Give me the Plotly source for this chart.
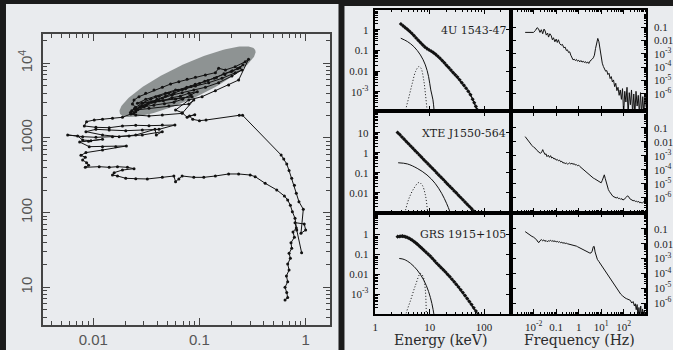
import numpy as np
import plotly.graph_objects as go

# ====================== DATA ======================
# Left panel: source track, (log10 x, log10 y) pairs in data units
track = [
    (-0.194, 0.830), (-0.169, 0.862), (-0.178, 0.929), (-0.194, 1.000), (-0.169, 1.076),
    (-0.181, 1.152), (-0.156, 1.232), (-0.169, 1.313), (-0.144, 1.388), (-0.156, 1.455),
    (-0.131, 1.522), (-0.138, 1.598), (-0.106, 1.670), (-0.119, 1.741), (-0.088, 1.795),
    (-0.100, 1.866), (-0.013, 1.848), (0.000, 1.768), (-0.044, 1.723), (-0.022, 2.045),
    (-0.063, 2.147), (-0.088, 2.259), (-0.106, 2.366), (-0.131, 2.460), (-0.156, 2.563),
    (-0.178, 2.652), (-0.206, 2.719), (-0.231, 2.772), (-0.594, 3.304), (-0.625, 3.304),
    (-0.938, 3.241), (-1.000, 3.232), (-1.063, 3.250), (-1.094, 3.295), (-1.044, 3.313),
    (-1.116, 3.277), (-1.163, 3.339), (-1.225, 3.375), (-1.100, 3.509), (-0.975, 3.554),
    (-0.850, 3.634), (-0.725, 3.710), (-0.631, 3.777), (-0.538, 4.054), (-0.569, 4.022),
    (-0.663, 3.955), (-0.756, 3.911), (-0.819, 3.933), (-0.850, 3.875), (-0.944, 3.844),
    (-1.038, 3.813), (-1.116, 3.786), (-1.194, 3.754), (-1.272, 3.723), (-1.350, 3.679),
    (-1.428, 3.643), (-1.506, 3.598), (-1.569, 3.554), (-1.616, 3.509), (-1.631, 3.455),
    (-1.600, 3.411), (-1.638, 3.366), (-1.538, 3.429), (-1.444, 3.487), (-1.350, 3.531),
    (-1.256, 3.576), (-1.163, 3.607), (-1.053, 3.643), (-0.944, 3.679), (-0.819, 3.741),
    (-0.694, 3.830), (-0.600, 3.911), (-0.663, 3.875), (-0.788, 3.799), (-0.913, 3.741),
    (-1.038, 3.696), (-1.131, 3.661), (-1.225, 3.643), (-1.319, 3.598), (-1.413, 3.554),
    (-1.506, 3.518), (-1.584, 3.464), (-1.069, 3.554), (-1.225, 3.518), (-1.381, 3.500),
    (-1.538, 3.464), (-1.600, 3.375), (-1.475, 3.397), (-1.288, 3.429), (-1.100, 3.455),
    (-1.053, 3.509), (-1.163, 3.330), (-1.350, 3.308), (-1.475, 3.295), (-1.600, 3.308),
    (-1.647, 3.321), (-1.725, 3.277), (-1.819, 3.263), (-1.913, 3.250), (-1.991, 3.241),
    (-2.063, 3.219), (-2.084, 3.161), (-1.975, 3.143), (-1.850, 3.138), (-1.725, 3.161),
    (-1.600, 3.170), (-1.475, 3.165), (-1.350, 3.174), (-1.231, 3.174), (-1.381, 3.116),
    (-1.538, 3.107), (-1.694, 3.098), (-1.850, 3.107), (-1.975, 3.116), (-2.069, 3.085),
    (-1.913, 3.040), (-1.756, 3.018), (-1.600, 3.040), (-1.419, 3.116), (-1.406, 3.040),
    (-1.350, 3.085), (-1.538, 3.040), (-1.663, 3.027), (-1.819, 3.018), (-1.975, 3.009),
    (-2.100, 3.018), (-2.241, 3.040), (-2.147, 3.027), (-2.100, 2.973), (-2.022, 2.964),
    (-1.913, 2.982), (-2.044, 2.955), (-2.128, 2.946), (-2.038, 2.884), (-1.913, 2.884),
    (-1.788, 2.884), (-1.688, 2.893), (-1.913, 2.839), (-2.069, 2.804), (-2.116, 2.768),
    (-2.075, 2.741), (-2.100, 2.705), (-2.063, 2.670), (-2.044, 2.634), (-2.075, 2.607),
    (-1.944, 2.616), (-1.850, 2.607), (-1.772, 2.616), (-1.678, 2.607), (-1.616, 2.589),
    (-1.725, 2.571), (-1.803, 2.536), (-1.819, 2.504), (-1.772, 2.491), (-1.694, 2.460),
    (-1.600, 2.455), (-1.491, 2.451), (-1.350, 2.473), (-1.241, 2.491), (-1.225, 2.415),
    (-1.194, 2.451), (-1.163, 2.491), (-1.053, 2.473), (-0.959, 2.473), (-0.850, 2.491),
    (-0.725, 2.518), (-0.631, 2.518), (-0.522, 2.504), (-0.475, 2.482), (-0.381, 2.393),
    (-0.272, 2.304), (-0.200, 2.223), (-0.169, 2.170), (-0.144, 2.098), (-0.125, 2.013),
    (-0.100, 1.924), (-0.084, 1.768), (-0.038, 1.464),
]
# extra dense passes inside the grey ellipse (log10 x, log10 y)
track_cluster = [
    (-1.620, 3.330), (-1.560, 3.420), (-1.480, 3.470), (-1.400, 3.520), (-1.320, 3.560),
    (-1.240, 3.600), (-1.160, 3.650), (-1.080, 3.690), (-1.000, 3.730), (-0.920, 3.770),
    (-0.840, 3.810), (-0.760, 3.850), (-0.700, 3.890), (-0.640, 3.930), (-0.590, 3.980),
    (-0.620, 3.940), (-0.690, 3.900), (-0.770, 3.860), (-0.860, 3.800), (-0.950, 3.760),
    (-1.040, 3.720), (-1.120, 3.680), (-1.200, 3.640), (-1.290, 3.600), (-1.380, 3.560),
    (-1.460, 3.520), (-1.540, 3.470), (-1.610, 3.400), (-1.650, 3.340), (-1.580, 3.380),
    (-1.500, 3.440), (-1.420, 3.480), (-1.340, 3.500), (-1.260, 3.540), (-1.180, 3.560),
    (-1.100, 3.600), (-1.020, 3.620), (-1.080, 3.580), (-1.160, 3.520), (-1.240, 3.480),
    (-1.330, 3.460), (-1.430, 3.440), (-1.520, 3.420), (-1.600, 3.350),
]
# grey highlight ellipse: centre (data units), semi-axes (screen px), tilt (deg)
ellipse_center = (0.0772, 5680.0)
ellipse_semi_px = (75.0, 17.4)
ellipse_tilt_deg = 25.0

# Energy spectra: (log10 E[keV], log10 flux)
spec_data = [
    [(0.47, 0.29), (0.51, 0.20), (0.55, 0.11), (0.59, 0.03), (0.63, -0.06), (0.67, -0.16),
     (0.71, -0.27), (0.75, -0.39), (0.79, -0.50), (0.83, -0.61), (0.87, -0.72), (0.91, -0.82),
     (0.95, -0.90), (0.99, -0.97), (1.03, -1.03), (1.07, -1.10), (1.11, -1.18), (1.15, -1.27),
     (1.19, -1.37), (1.23, -1.48), (1.27, -1.59), (1.31, -1.71), (1.35, -1.82), (1.39, -1.94),
     (1.43, -2.06), (1.47, -2.17), (1.51, -2.28), (1.55, -2.41), (1.59, -2.55), (1.63, -2.68),
     (1.67, -2.82), (1.71, -2.97), (1.75, -3.13), (1.79, -3.35), (1.82, -3.52), (1.85, -3.70),
     (1.87, -3.85)],
    [(0.41, 1.02), (0.45, 0.92), (0.49, 0.80), (0.53, 0.69), (0.57, 0.57), (0.61, 0.46),
     (0.65, 0.35), (0.69, 0.24), (0.73, 0.12), (0.77, 0.01), (0.81, -0.10), (0.85, -0.21),
     (0.89, -0.33), (0.93, -0.44), (0.97, -0.55), (1.01, -0.66), (1.05, -0.77), (1.09, -0.88),
     (1.13, -1.00), (1.17, -1.11), (1.21, -1.22), (1.25, -1.33), (1.29, -1.45), (1.33, -1.56),
     (1.37, -1.67), (1.41, -1.78), (1.45, -1.90), (1.49, -2.00), (1.53, -2.12), (1.57, -2.23),
     (1.61, -2.34), (1.65, -2.46), (1.69, -2.57), (1.73, -2.68), (1.77, -2.79), (1.81, -2.91),
     (1.84, -3.00)],
    [(0.41, -0.13), (0.44, -0.12), (0.47, -0.11), (0.50, -0.10), (0.53, -0.12), (0.56, -0.14),
     (0.59, -0.17), (0.62, -0.21), (0.65, -0.26), (0.68, -0.31), (0.71, -0.37), (0.74, -0.43),
     (0.77, -0.50), (0.80, -0.57), (0.83, -0.65), (0.86, -0.72), (0.89, -0.80), (0.93, -0.90),
     (0.97, -1.00), (1.01, -1.10), (1.05, -1.22), (1.09, -1.34), (1.13, -1.46), (1.17, -1.57),
     (1.21, -1.68), (1.25, -1.79), (1.29, -1.90), (1.33, -2.02), (1.37, -2.13), (1.41, -2.26),
     (1.45, -2.39), (1.49, -2.52), (1.53, -2.65), (1.57, -2.79), (1.61, -2.93), (1.65, -3.08),
     (1.69, -3.23), (1.73, -3.38), (1.77, -3.53), (1.81, -3.69), (1.85, -3.85), (1.89, -4.02)],
]
spec_disk = [
    [(0.468, -0.40), (0.59, -0.56), (0.71, -0.81), (0.83, -1.21), (0.92, -1.69), (0.98, -2.26),
     (1.02, -2.90), (1.06, -3.38), (1.08, -3.86), (1.10, -4.30)],
    [(0.42, -0.49), (0.59, -0.55), (0.77, -0.77), (0.95, -1.10), (1.10, -1.52), (1.22, -2.02),
     (1.31, -2.52), (1.37, -2.93), (1.41, -3.30)],
    [(0.44, -1.22), (0.53, -1.27), (0.65, -1.47), (0.77, -1.80), (0.89, -2.30), (0.98, -2.88),
     (1.04, -3.47), (1.08, -4.05), (1.10, -4.40)],
]
spec_line = [
    [(0.54, -4.30), (0.56, -3.86), (0.62, -3.22), (0.68, -2.58), (0.74, -2.01), (0.80, -1.77),
     (0.84, -1.85), (0.89, -2.42), (0.92, -3.06), (0.95, -3.86), (0.96, -4.30)],
    [(0.53, -3.30), (0.55, -2.93), (0.62, -2.27), (0.71, -1.77), (0.80, -1.48), (0.86, -1.60),
     (0.92, -2.10), (0.96, -2.93), (0.97, -3.30)],
    [(0.55, -4.40), (0.56, -4.05), (0.65, -3.30), (0.74, -2.55), (0.83, -1.97), (0.88, -2.13),
     (0.92, -2.80), (0.94, -4.05), (0.95, -4.40)],
]
source_names = ["4U 1543-47", "XTE J1550-564", "GRS 1915+105"]

# Power spectra: (log10 f[Hz], log10 power)
psd = [
    [(-2.38, -1.40), (-2.20, -1.40), (-2.01, -1.40), (-1.92, -1.25), (-1.85, -1.05), (-1.79, -1.12),
     (-1.72, -1.40), (-1.66, -1.20), (-1.60, -1.50), (-1.54, -1.15), (-1.49, -1.30), (-1.44, -1.60),
     (-1.38, -1.45), (-1.34, -1.75), (-1.28, -1.50), (-1.22, -1.65), (-1.17, -1.95), (-1.12, -1.80),
     (-1.06, -2.10), (-1.00, -1.90), (-0.95, -2.15), (-0.90, -1.95), (-0.84, -2.25), (-0.78, -2.35),
     (-0.72, -2.30), (-0.66, -2.55), (-0.60, -2.50), (-0.55, -2.75), (-0.50, -2.70), (-0.45, -2.90),
     (-0.40, -2.85), (-0.35, -3.10), (-0.30, -3.30), (-0.25, -3.45), (-0.20, -3.40), (-0.15, -3.50),
     (-0.10, -3.42), (-0.05, -3.55), (0.00, -3.48), (0.05, -3.60), (0.10, -3.50), (0.15, -3.62),
     (0.20, -3.55), (0.25, -3.65), (0.30, -3.58), (0.35, -3.70), (0.40, -3.60), (0.45, -3.72),
     (0.50, -3.55), (0.55, -3.50), (0.60, -3.40), (0.65, -3.30), (0.70, -3.10), (0.75, -2.60),
     (0.80, -2.05), (0.85, -1.85), (0.90, -2.10), (0.95, -2.70), (1.00, -3.20), (1.05, -3.70),
     (1.10, -3.95), (1.15, -4.10), (1.20, -4.30), (1.25, -4.25), (1.30, -4.55), (1.35, -4.45),
     (1.40, -4.85), (1.45, -4.70), (1.50, -5.10), (1.55, -4.95), (1.60, -5.45), (1.65, -5.20),
     (1.70, -5.75), (1.75, -5.50), (1.80, -6.10), (1.85, -5.70), (1.90, -6.40), (1.95, -5.60),
     (2.00, -7.50), (2.05, -5.80), (2.10, -6.60), (2.15, -5.50), (2.20, -7.50), (2.25, -5.90),
     (2.30, -6.80), (2.35, -5.70), (2.40, -7.50), (2.45, -6.00), (2.50, -7.50), (2.55, -5.80),
     (2.60, -6.90), (2.65, -6.10), (2.70, -7.50), (2.75, -5.90), (2.80, -7.50), (2.85, -6.20),
     (2.90, -7.50), (2.95, -6.00), (3.00, -7.00)],
    [(-2.38, -1.62), (-2.30, -1.80), (-2.22, -1.98), (-2.16, -2.10), (-2.08, -2.25), (-2.00, -2.38),
     (-1.93, -2.45), (-1.86, -2.60), (-1.79, -2.70), (-1.71, -2.81), (-1.65, -2.75), (-1.60, -2.55),
     (-1.56, -2.70), (-1.50, -2.90), (-1.45, -2.85), (-1.41, -3.05), (-1.35, -2.95), (-1.30, -3.10),
     (-1.25, -2.98), (-1.20, -3.15), (-1.15, -3.10), (-1.10, -3.22), (-1.05, -3.18), (-1.00, -3.30),
     (-0.95, -3.25), (-0.90, -3.35), (-0.85, -3.30), (-0.80, -3.42), (-0.75, -3.38), (-0.70, -3.50),
     (-0.65, -3.48), (-0.60, -3.55), (-0.55, -3.50), (-0.50, -3.58), (-0.45, -3.55), (-0.40, -3.50),
     (-0.35, -3.58), (-0.30, -3.52), (-0.25, -3.60), (-0.20, -3.55), (-0.15, -3.65), (-0.10, -3.62),
     (-0.05, -3.70), (0.00, -3.66), (0.05, -3.75), (0.10, -3.82), (0.15, -3.90), (0.20, -4.00),
     (0.25, -4.05), (0.30, -4.10), (0.35, -4.20), (0.40, -4.25), (0.45, -4.32), (0.50, -4.36),
     (0.55, -4.45), (0.60, -4.50), (0.65, -4.58), (0.70, -4.62), (0.75, -4.68), (0.80, -4.72),
     (0.85, -4.80), (0.90, -4.85), (0.95, -4.90), (1.00, -4.92), (1.05, -4.75), (1.10, -4.40),
     (1.14, -4.35), (1.18, -4.60), (1.22, -4.90), (1.27, -5.20), (1.32, -5.40), (1.37, -5.55),
     (1.42, -5.68), (1.47, -5.80), (1.52, -5.88), (1.57, -5.92), (1.62, -5.95), (1.67, -6.00),
     (1.72, -5.95), (1.77, -6.05), (1.82, -6.02), (1.87, -6.10), (1.92, -6.05), (1.97, -6.15),
     (2.02, -6.10), (2.07, -6.05), (2.12, -5.95), (2.17, -5.85), (2.22, -5.90), (2.27, -6.05),
     (2.32, -6.10), (2.37, -6.15), (2.42, -6.20), (2.47, -6.18), (2.52, -6.25), (2.57, -6.22),
     (2.62, -6.30), (2.67, -6.25), (2.72, -6.35), (2.77, -6.30), (2.82, -6.38), (2.87, -6.30),
     (2.92, -6.25), (2.97, -6.15)],
    [(-2.38, -1.18), (-2.30, -1.28), (-2.22, -1.36), (-2.16, -1.41), (-2.08, -1.50), (-2.00, -1.56),
     (-1.93, -1.63), (-1.86, -1.75), (-1.81, -1.88), (-1.77, -1.92), (-1.72, -1.80), (-1.66, -1.72),
     (-1.60, -1.80), (-1.55, -1.74), (-1.50, -1.84), (-1.45, -1.78), (-1.40, -1.86), (-1.35, -1.80),
     (-1.30, -1.82), (-1.25, -1.76), (-1.20, -1.84), (-1.15, -1.79), (-1.10, -1.85), (-1.05, -1.80),
     (-1.00, -1.88), (-0.95, -1.84), (-0.90, -1.90), (-0.85, -1.86), (-0.80, -1.93), (-0.75, -1.90),
     (-0.70, -1.96), (-0.65, -1.93), (-0.60, -1.98), (-0.55, -1.96), (-0.50, -2.00), (-0.45, -2.02),
     (-0.40, -2.00), (-0.35, -2.05), (-0.30, -2.06), (-0.25, -2.08), (-0.20, -2.10), (-0.15, -2.13),
     (-0.10, -2.16), (-0.05, -2.20), (0.00, -2.24), (0.05, -2.28), (0.10, -2.33), (0.15, -2.37),
     (0.20, -2.42), (0.25, -2.46), (0.30, -2.50), (0.35, -2.54), (0.40, -2.58), (0.45, -2.60),
     (0.50, -2.63), (0.55, -2.62), (0.60, -2.50), (0.65, -2.20), (0.69, -2.18), (0.73, -2.55),
     (0.78, -2.90), (0.83, -3.05), (0.90, -3.20), (0.97, -3.36), (1.04, -3.52), (1.10, -3.66),
     (1.17, -3.82), (1.24, -3.98), (1.31, -4.15), (1.38, -4.30), (1.45, -4.48), (1.52, -4.65),
     (1.59, -4.82), (1.66, -4.95), (1.73, -5.10), (1.80, -5.25), (1.87, -5.40), (1.94, -5.50),
     (2.00, -5.60), (2.06, -5.65), (2.12, -5.70), (2.18, -5.72), (2.24, -5.78), (2.30, -5.82),
     (2.36, -6.00), (2.42, -5.90), (2.48, -6.20), (2.52, -6.05), (2.56, -6.45), (2.60, -6.10),
     (2.64, -7.00), (2.68, -6.30), (2.72, -6.90), (2.76, -6.20), (2.80, -7.00), (2.84, -6.40),
     (2.88, -6.90), (2.92, -6.50), (2.96, -7.00)],
]

# Tick labels
left_x_ticks = [0.01, 0.1, 1]
left_x_text = ["0.01", "0.1", "1"]
left_y_ticks = [10, 100, 1000, 1e4]
left_y_text = ["10", "100", "1000", "10<sup>4</sup>"]
energy_ticks = [1, 10, 100]
energy_text = ["1", "10", "100"]
flux_ticks = [[1, 0.1, 0.01, 1e-3], [10, 1, 0.1, 0.01], [1, 0.1, 0.01, 1e-3]]
flux_text = [["1", "0.1", "0.01", "10<sup>-3</sup>"], ["10", "1", "0.1", "0.01"],
             ["1", "0.1", "0.01", "10<sup>-3</sup>"]]
power_ticks = [0.1, 0.01, 1e-3, 1e-4, 1e-5, 1e-6]
power_text = ["0.1", "0.01", "10<sup>-3</sup>", "10<sup>-4</sup>", "10<sup>-5</sup>", "10<sup>-6</sup>"]
freq_ticks = [1e-3, 1e-2, 0.1, 1, 10, 100, 1e3]
freq_text = ["", "10<sup>-2</sup>", "0.1", "1", "10<sup>1</sup>", "10<sup>2</sup>", ""]

# ====================== LAYOUT GEOMETRY ======================
W, H = 673, 350
BG = "#1b1b1b"
PANEL = "#e9ebee"
ELL = "#8e9393"
INK = "#121212"


def fx(p):
    return p / W


def fy(p):
    return 1 - p / H


def minor_vals(lo, hi):
    return [k * 10.0 ** d for d in range(lo, hi + 1) for k in range(2, 10)]


L_X = (40, 328)
L_Y = (34, 325)
L_XR = [-2.475, 0.225]
L_YR = [0.495, 4.393]

E_X = (374, 510.5)
F_X = (510.5, 646)
ROWS = [(9.5, 111), (111, 212.5), (212.5, 314)]
E_XR = [0, 2.5]
F_XR = [-3, 3]
E_YR = [[-3.92, 0.99], [-2.98, 2.1], [-4.0, 1.08]]
P_YR = [[-7.27, 0.31], [-7.04, 0.21], [-6.74, 0.11]]

fig = go.Figure()

# ---------- left panel ----------
dpx = (L_X[1] - L_X[0]) / (L_XR[1] - L_XR[0])
dpy = (L_Y[1] - L_Y[0]) / (L_YR[1] - L_YR[0])
th = np.deg2rad(ellipse_tilt_deg)
t = np.linspace(0, 2 * np.pi, 181)
u = ellipse_semi_px[0] * np.cos(t)
v = ellipse_semi_px[1] * np.sin(t)
ex = np.log10(ellipse_center[0]) + (u * np.cos(th) - v * np.sin(th)) / dpx
ey = np.log10(ellipse_center[1]) + (u * np.sin(th) + v * np.cos(th)) / dpy
fig.add_trace(go.Scatter(x=10 ** ex, y=10 ** ey, mode="lines", fill="toself",
                         fillcolor=ELL, line=dict(width=0, color=ELL),
                         xaxis="x", yaxis="y", hoverinfo="skip"))
for seg in (track, track_cluster):
    fig.add_trace(go.Scatter(x=[10 ** a for a, b in seg], y=[10 ** b for a, b in seg],
                             mode="lines+markers", line=dict(color=INK, width=1),
                             marker=dict(symbol="circle", size=3, color=INK),
                             xaxis="x", yaxis="y"))

# ---------- right panel ----------
for r in range(3):
    xe, ye = ("x%d" % (2 + 2 * r), "y%d" % (2 + 2 * r))
    xf, yf = ("x%d" % (3 + 2 * r), "y%d" % (3 + 2 * r))
    d = spec_data[r]
    fig.add_trace(go.Scatter(x=[10 ** a for a, b in d], y=[10 ** b for a, b in d],
                             mode="lines+markers", line=dict(color=INK, width=1.3),
                             marker=dict(symbol="diamond", size=3.2, color=INK),
                             xaxis=xe, yaxis=ye))
    dk = spec_disk[r]
    fig.add_trace(go.Scatter(x=[10 ** a for a, b in dk], y=[10 ** b for a, b in dk],
                             mode="lines", line=dict(color=INK, width=1, shape="spline"),
                             xaxis=xe, yaxis=ye))
    gl = spec_line[r]
    fig.add_trace(go.Scatter(x=[10 ** a for a, b in gl], y=[10 ** b for a, b in gl],
                             mode="lines",
                             line=dict(color=INK, width=1, dash="1px,2px", shape="spline"),
                             xaxis=xe, yaxis=ye))
    p = psd[r]
    fig.add_trace(go.Scatter(x=[10 ** a for a, b in p], y=[10 ** b for a, b in p],
                             mode="lines", line=dict(color=INK, width=1),
                             xaxis=xf, yaxis=yf))

# ---------- axes ----------
left_common = dict(type="log", showline=True, linecolor="#444444", linewidth=1.6,
                   mirror="allticks", ticks="inside", ticklen=7, tickwidth=1.2,
                   tickcolor="#444444", showgrid=False, zeroline=False, layer="above traces",
                   tickfont=dict(family="Liberation Sans, Arial", size=15, color="#555555"))
right_common = dict(type="log", showline=True, linecolor="black", linewidth=1.5,
                    mirror="allticks", ticks="inside", ticklen=5, tickwidth=1,
                    tickcolor="black", showgrid=False, zeroline=False, layer="above traces",
                    tickfont=dict(family="Liberation Serif, serif", size=11, color="#1e1e1e"))
minor_left = dict(ticks="inside", ticklen=4, tickwidth=1, tickcolor="#444444", tickmode="array")
minor_right = dict(ticks="inside", ticklen=2.5, tickwidth=0.8, tickcolor="black", tickmode="array")

layout = dict(
    width=W, height=H, margin=dict(l=0, r=0, t=0, b=0),
    paper_bgcolor=BG, plot_bgcolor="rgba(0,0,0,0)", showlegend=False,
    xaxis=dict(left_common, domain=[fx(L_X[0]), fx(L_X[1])], anchor="y", range=L_XR,
               tickvals=left_x_ticks, ticktext=left_x_text,
               minor=dict(minor_left, tickvals=minor_vals(-3, 0))),
    yaxis=dict(left_common, domain=[fy(L_Y[1]), fy(L_Y[0])], anchor="x", range=L_YR,
               tickvals=left_y_ticks, ticktext=left_y_text, tickangle=-90,
               ticklabelstandoff=3,
               minor=dict(minor_left, tickvals=minor_vals(0, 4))),
)
for r in range(3):
    top, bot = ROWS[r]
    ydom = [fy(bot), fy(top)]
    ie, i_f = 2 + 2 * r, 3 + 2 * r
    layout["xaxis%d" % ie] = dict(right_common, domain=[fx(E_X[0]), fx(E_X[1])],
                                  anchor="y%d" % ie, range=E_XR,
                                  tickvals=energy_ticks, ticktext=energy_text,
                                  showticklabels=(r == 2), ticklabelstandoff=2,
                                  minor=dict(minor_right, tickvals=minor_vals(0, 2)))
    layout["yaxis%d" % ie] = dict(right_common, domain=ydom, anchor="x%d" % ie,
                                  range=E_YR[r], tickvals=flux_ticks[r], ticktext=flux_text[r],
                                  ticklabelstandoff=3,
                                  minor=dict(minor_right, tickvals=minor_vals(-5, 2)))
    layout["xaxis%d" % i_f] = dict(right_common, domain=[fx(F_X[0]), fx(F_X[1])],
                                   anchor="y%d" % i_f, range=F_XR,
                                   tickvals=freq_ticks, ticktext=freq_text,
                                   showticklabels=(r == 2), ticklabelstandoff=2,
                                   minor=dict(minor_right, tickvals=minor_vals(-3, 2)))
    layout["yaxis%d" % i_f] = dict(right_common, domain=ydom, anchor="x%d" % i_f,
                                   range=P_YR[r], side="right",
                                   tickvals=power_ticks, ticktext=power_text,
                                   ticklabelstandoff=4,
                                   minor=dict(minor_right, tickvals=minor_vals(-8, 0)))

shapes = [
    dict(type="rect", xref="paper", yref="paper", x0=fx(3), x1=fx(337), y0=0, y1=fy(4),
         fillcolor=PANEL, line=dict(width=0), layer="below"),
    dict(type="rect", xref="paper", yref="paper", x0=fx(343), x1=1.0, y0=0, y1=fy(6),
         fillcolor=PANEL, line=dict(width=0), layer="below"),
]

annotations = []
name_y = [30, 133, 234]
for r in range(3):
    annotations.append(dict(text=source_names[r], xref="paper", yref="paper",
                            x=fx(507), y=fy(name_y[r]), xanchor="right", yanchor="middle",
                            showarrow=False,
                            font=dict(family="DejaVu Serif", size=11, color="#1e1e1e")))
annotations.append(dict(text="Energy (keV)", xref="paper", yref="paper", x=fx(439), y=fy(340),
                        xanchor="center", yanchor="middle", showarrow=False,
                        font=dict(family="DejaVu Serif", size=14, color="#2a2a2a")))
annotations.append(dict(text="Frequency (Hz)", xref="paper", yref="paper", x=fx(579), y=fy(340),
                        xanchor="center", yanchor="middle", showarrow=False,
                        font=dict(family="DejaVu Serif", size=14, color="#2a2a2a")))

layout["shapes"] = shapes
layout["annotations"] = annotations
fig.update_layout(**layout)

fig.write_html("out.html")
